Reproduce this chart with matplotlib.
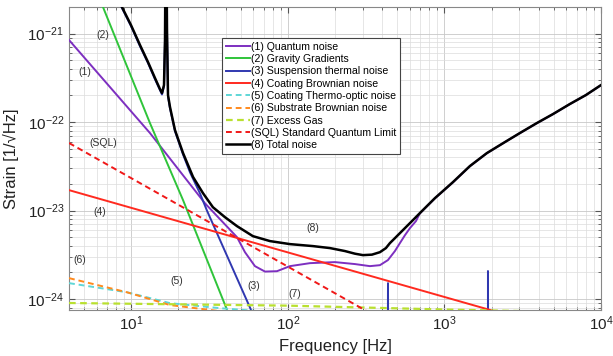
import matplotlib
matplotlib.use("Agg")
import matplotlib.pyplot as plt
from matplotlib.ticker import LogLocator, NullFormatter

plt.rcParams['font.family'] = ['Liberation Sans', 'DejaVu Sans']

# ---- data ----
f_quantum = [4.0, 13.15, 29.5, 47.3, 53.2, 61.6, 71.4, 85.2, 103.1, 138.4, 199.8, 268.1, 334.3, 387.3, 435.5,
             482.8, 519.6, 560, 602, 658, 697, 869.5, 1132, 1454, 1867, 2433, 3034, 3895, 4930, 6327, 8006, 10000]
h_quantum = [8.47e-22, 7.52e-23, 1.21e-23, 5.0e-24, 3.38e-24, 2.35e-24, 2.04e-24, 2.06e-24, 2.35e-24, 2.54e-24,
             2.61e-24, 2.48e-24, 2.35e-24, 2.41e-24, 2.75e-24, 3.48e-24, 4.28e-24, 5.27e-24, 6.32e-24, 7.6e-24,
             9.3e-24, 1.375e-23, 2.08e-23, 3.17e-23, 4.45e-23, 5.93e-23, 7.5e-23, 9.73e-23, 1.228e-22, 1.597e-22,
             2.017e-22, 2.615e-22]

f_gravity = [5.0, 6.59, 13.15, 21.4, 41.4, 60.0]
h_gravity = [6.5e-21, 2.0e-21, 9.75e-23, 1.31e-23, 7.1e-25, 1.4e-25]

f_susp = [8.0, 8.71, 9.95, 11.36, 12.78, 14.16, 15.24, 15.7, 16.17, 16.41, 16.65, 16.9, 17.15, 17.66, 19.0, 21.4,
          23.7, 27.5, 30.4, 59.0, 100, 430, 436, 442, 1890, 1897, 1905, 10000]
h_susp = [2.7e-21, 1.95e-21, 1.22e-21, 7.2e-22, 4.65e-22, 3.05e-22, 2.3e-22, 2.05e-22, 2.55e-22, 8.3e-22, 5e-20,
          1.05e-21, 1.95e-22, 1.43e-22, 7.9e-23, 4.3e-23, 2.7e-23, 1.55e-23, 1.0e-23, 7.1e-25, 8e-26, 1e-27,
          1.51e-24, 1e-27, 3e-29, 2.07e-24, 3e-29, 1e-30]

f_coat = [4.0, 100, 10000]
h_coat = [1.70e-23, 3.36e-24, 3.3e-25]

f_thermo = [4.0, 9.38, 17.66, 36.8, 1000, 10000]
h_thermo = [1.51e-24, 1.19e-24, 8.97e-25, 7.87e-25, 5e-25, 4e-25]

f_subst = [4.0, 9.38, 17.66, 36.8, 1000, 10000]
h_subst = [1.72e-24, 1.19e-24, 8.53e-25, 7.28e-25, 3e-25, 1.5e-25]

f_gas = [4.0, 100, 1000, 10000]
h_gas = [9.0e-25, 8.4e-25, 7.6e-25, 7.0e-25]

f_sql = [4.0, 100, 1000, 10000]
h_sql = [5.8e-23, 2.32e-24, 2.32e-25, 2.32e-26]

f_total = [8.0, 8.71, 9.95, 11.36, 12.78, 14.16, 15.24, 15.7, 16.17, 16.41, 16.65, 16.9, 17.15, 17.66, 19.0, 21.4,
           24.8, 28.7, 33.2, 39.6, 47.3, 59.8, 76.9, 103.1, 144.5, 185.8, 231.5, 268.1, 301.6, 344.3, 387.3, 422.9,
           448.5, 482.8, 519.6, 576, 629, 697, 869.5, 1132, 1454, 1867, 2433, 3034, 3895, 4930, 6327, 8006, 10000]
h_total = [2.8e-21, 2.0e-21, 1.25e-21, 7.43e-22, 4.77e-22, 3.15e-22, 2.36e-22, 2.13e-22, 2.62e-22, 8.47e-22, 5e-20,
           1.1e-21, 2.02e-22, 1.48e-22, 8.13e-23, 4.46e-23, 2.39e-23, 1.57e-23, 1.09e-23, 8.42e-24, 6.66e-24,
           5.13e-24, 4.51e-24, 4.17e-24, 3.96e-24, 3.76e-24, 3.48e-24, 3.25e-24, 3.13e-24, 3.17e-24, 3.38e-24,
           3.76e-24, 4.28e-24, 4.87e-24, 5.55e-24, 6.66e-24, 7.78e-24, 9.35e-24, 1.38e-23, 2.09e-23, 3.18e-23,
           4.46e-23, 5.94e-23, 7.52e-23, 9.75e-23, 1.23e-22, 1.60e-22, 2.02e-22, 2.62e-22]

x_ticks = [10, 100, 1000, 10000]
y_ticks = [1e-24, 1e-23, 1e-22, 1e-21]

labels = ['(1) Quantum noise', '(2) Gravity Gradients', '(3) Suspension thermal noise',
          '(4) Coating Brownian noise', '(5) Coating Thermo-optic noise', '(6) Substrate Brownian noise',
          '(7) Excess Gas', '(SQL) Standard Quantum Limit', '(8) Total noise']

annot_text = ['(2)', '(1)', '(SQL)', '(4)', '(6)', '(5)', '(3)', '(7)', '(8)']
annot_f = [6.59, 5.06, 6.59, 6.31, 4.70, 19.6, 60.7, 111, 145]
annot_h = [9.6e-22, 3.68e-22, 5.79e-23, 9.6e-24, 2.75e-24, 1.59e-24, 1.40e-24, 1.13e-24, 6.3e-24]

# ---- figure ----
fig = plt.figure(figsize=(6.13, 3.56), dpi=100)
ax = fig.add_axes([0.1126, 0.1292, 0.8678, 0.8511])
ax.set_xscale('log')
ax.set_yscale('log')

ax.plot(f_quantum, h_quantum, color='#7d2fc0', lw=1.4, label=labels[0], zorder=4)
ax.plot(f_gravity, h_gravity, color='#2fc43a', lw=1.4, label=labels[1], zorder=4)
ax.plot(f_susp, h_susp, color='#3038b0', lw=1.4, label=labels[2], zorder=4)
ax.plot(f_coat, h_coat, color='#ff2a1f', lw=1.4, label=labels[3], zorder=4)
ax.plot(f_thermo, h_thermo, color='#5fd6d6', lw=1.4, ls=(0, (3, 2)), label=labels[4], zorder=4)
ax.plot(f_subst, h_subst, color='#ff8a1e', lw=1.4, ls=(0, (3, 2)), label=labels[5], zorder=4)
ax.plot(f_gas, h_gas, color='#b9e030', lw=1.6, ls=(0, (3, 2)), label=labels[6], zorder=4)
ax.plot(f_sql, h_sql, color='#f01818', lw=1.4, ls=(0, (3, 2)), label=labels[7], zorder=4)
ax.plot(f_total, h_total, color='black', lw=1.8, label=labels[8], zorder=5)

ax.set_xlim(4, 1e4)
ax.set_ylim(7.5e-25, 2e-21)

ax.set_xticks(x_ticks)
ax.set_yticks(y_ticks)
ax.xaxis.set_minor_locator(LogLocator(base=10, subs=range(2, 10), numticks=20))
ax.yaxis.set_minor_locator(LogLocator(base=10, subs=range(2, 10), numticks=20))
ax.xaxis.set_minor_formatter(NullFormatter())
ax.yaxis.set_minor_formatter(NullFormatter())

ax.grid(True, which='major', color='#c8c8c8', lw=0.6)
ax.grid(True, which='minor', color='#dcdcdc', lw=0.5)
ax.set_axisbelow(True)
ax.tick_params(which='both', direction='in', top=True, right=True, colors='#555555', labelcolor='#222222')
ax.tick_params(which='major', length=4, labelsize=11)
ax.tick_params(which='minor', length=2)
for s in ax.spines.values():
    s.set_color('#888888')
    s.set_linewidth(0.8)

ax.set_xlabel('Frequency [Hz]', fontsize=12, color='#222222', labelpad=4)
ax.set_ylabel('Strain [1/\u221aHz]', fontsize=12, color='#222222', labelpad=6)

for t, fx, hy in zip(annot_text, annot_f, annot_h):
    ax.text(fx, hy, t, fontsize=7.5, color='#333333', ha='center', va='center', zorder=6)

leg = ax.legend(loc='upper left', bbox_to_anchor=(0.2876, 0.898), borderaxespad=0, fontsize=7.6,
                handlelength=2.3, handletextpad=0.1, labelspacing=0.22, borderpad=0.35,
                fancybox=False, framealpha=1, edgecolor='#444444')
leg.get_frame().set_linewidth(0.8)
leg.set_zorder(10)

fig.savefig('out.png', dpi=100)
